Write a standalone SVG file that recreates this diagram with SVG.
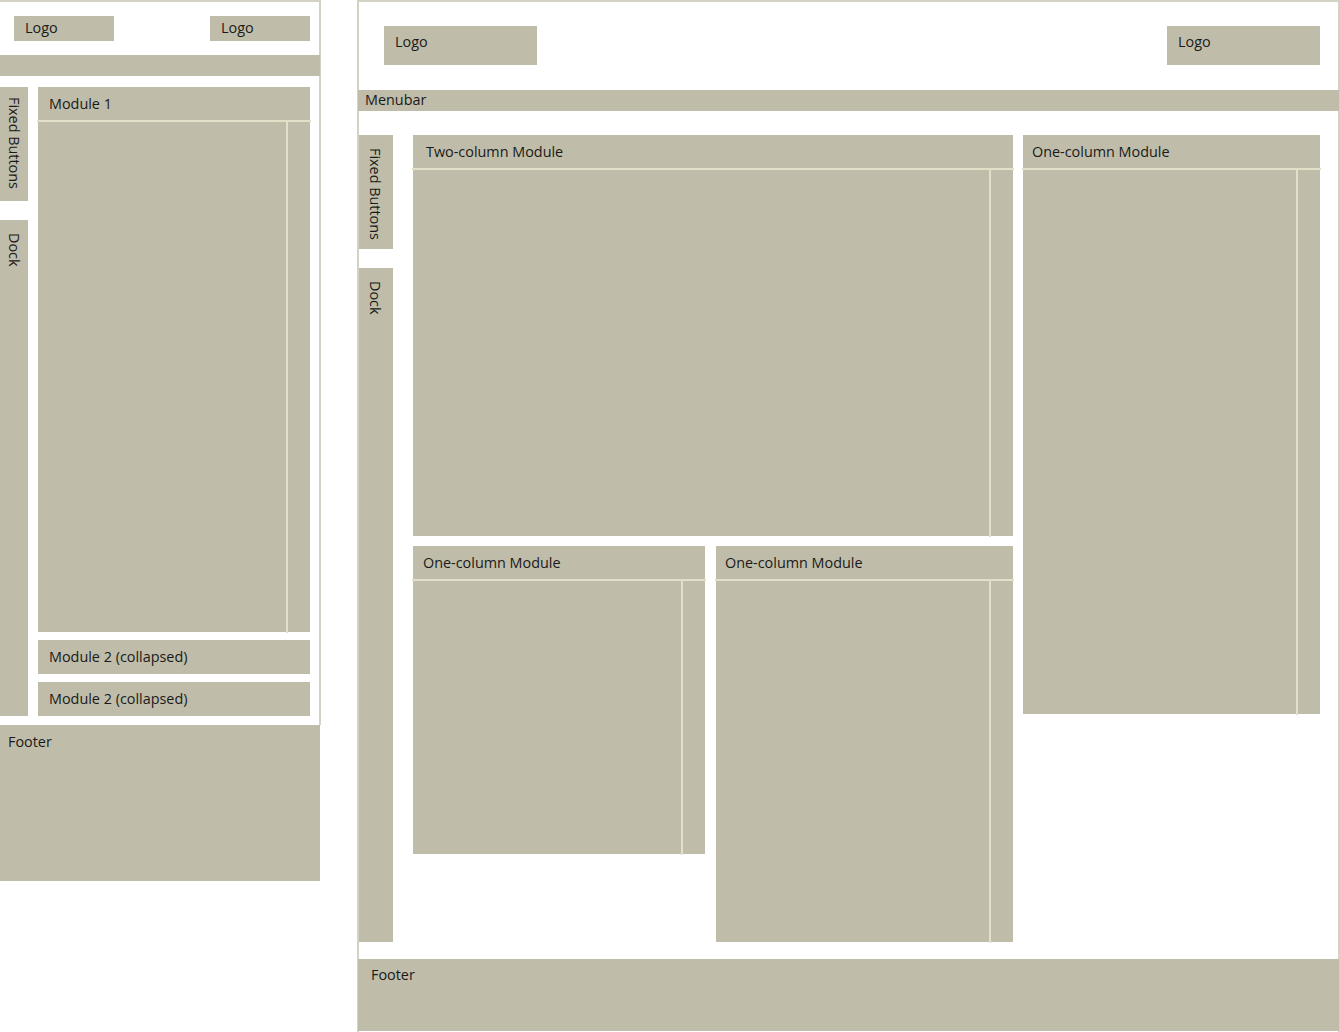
<svg xmlns="http://www.w3.org/2000/svg" width="1340" height="1032" viewBox="0 0 1340 1032">
<style>
.b{fill:#bfbda9}
.f{fill:none;stroke:#d3d2c4;stroke-width:2}
.l{stroke:#e2e0c8;stroke-width:2}
text{font-family:"Open Sans","DejaVu Sans",sans-serif;font-size:14.4px;fill:#1a1a1a}
</style>
<rect width="1340" height="1032" fill="#fff"/>
<g id="frame-small">
<path class="f" d="M0 1H320V725"/>
</g>
<g id="frame-large">
<path class="f" d="M358 1032V1H1339V1032"/>
</g>
<g id="s-logo1"><rect class="b" x="14" y="16" width="100" height="25"/><text x="25" y="33">Logo</text></g>
<g id="s-logo2"><rect class="b" x="210" y="16" width="100" height="25"/><text x="221" y="33">Logo</text></g>
<g id="s-menubar"><rect class="b" x="0" y="55" width="320" height="21"/></g>
<g id="s-fixed"><rect class="b" x="0" y="87" width="28" height="114"/><text transform="translate(9,97) rotate(90)">Fixed Buttons</text></g>
<g id="s-dock"><rect class="b" x="0" y="220" width="28" height="496"/><text transform="translate(9,233) rotate(90)">Dock</text></g>
<g id="s-module1"><rect class="b" x="38" y="87" width="272" height="545"/><text x="49" y="109">Module 1</text></g>
<g id="s-module2a"><rect class="b" x="38" y="640" width="272" height="34"/><text x="49" y="662">Module 2 (collapsed)</text></g>
<g id="s-module2b"><rect class="b" x="38" y="682" width="272" height="34"/><text x="49" y="704">Module 2 (collapsed)</text></g>
<g id="s-footer"><rect class="b" x="0" y="725" width="320" height="156"/><text x="8" y="747">Footer</text></g>
<g id="l-logo1"><rect class="b" x="384" y="26" width="153" height="39"/><text x="395" y="47">Logo</text></g>
<g id="l-logo2"><rect class="b" x="1167" y="26" width="153" height="39"/><text x="1178" y="47">Logo</text></g>
<g id="l-menubar"><rect class="b" x="358" y="90" width="981" height="21"/><text x="365" y="105">Menubar</text></g>
<g id="l-fixed"><rect class="b" x="359" y="135" width="34" height="114"/><text transform="translate(370,148) rotate(90)">Fixed Buttons</text></g>
<g id="l-dock"><rect class="b" x="359" y="268" width="34" height="674"/><text transform="translate(370,281) rotate(90)">Dock</text></g>
<g id="l-twocol"><rect class="b" x="413" y="135" width="600" height="401"/><text x="426" y="157">Two-column Module</text></g>
<g id="l-onecol-right"><rect class="b" x="1023" y="135" width="297" height="579"/><text x="1032" y="157">One-column Module</text></g>
<g id="l-onecol-a"><rect class="b" x="413" y="546" width="292" height="308"/><text x="423" y="568">One-column Module</text></g>
<g id="l-onecol-b"><rect class="b" x="716" y="546" width="297" height="396"/><text x="725" y="568">One-column Module</text></g>
<g id="l-footer"><rect class="b" x="358" y="959" width="981" height="72"/><text x="371" y="980">Footer</text></g>
<g id="connectors">
<path class="l" d="M37 121H311M287 121V633"/>
<path class="l" d="M412 169H1014M990 169V537"/>
<path class="l" d="M1022 169H1321M1297 169V715"/>
<path class="l" d="M412 580H706M682 580V855"/>
<path class="l" d="M715 580H1014M990 580V943"/>
</g>
</svg>
